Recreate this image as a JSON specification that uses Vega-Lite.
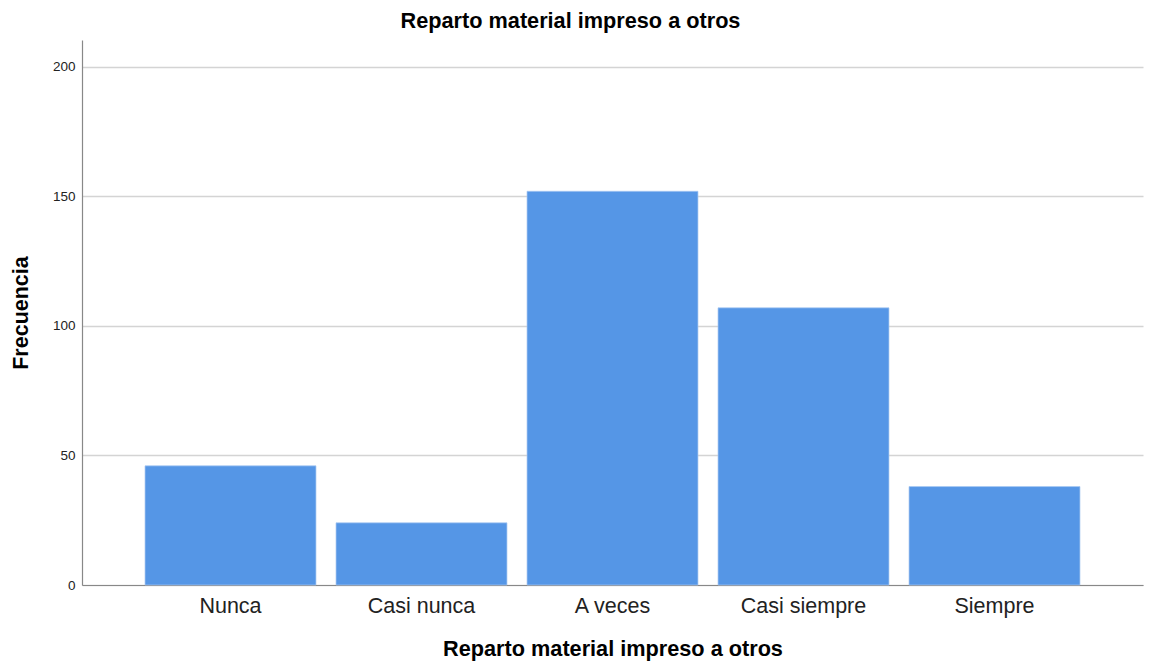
{
  "$schema": "https://vega.github.io/schema/vega-lite/v6.json",
  "autosize": "none",
  "width": 1061,
  "height": 545,
  "padding": {"left": 82, "top": 40, "right": 6, "bottom": 82},
  "background": "white",
  "title": {
    "text": "Reparto material impreso a otros",
    "font": "Liberation Sans",
    "fontSize": 21.7,
    "fontWeight": "bold",
    "color": "#000000",
    "anchor": "middle",
    "dx": -42,
    "offset": 7
  },
  "data": {
    "values": [
      {"categoria": "Nunca", "frecuencia": 46},
      {"categoria": "Casi nunca", "frecuencia": 24},
      {"categoria": "A veces", "frecuencia": 152},
      {"categoria": "Casi siempre", "frecuencia": 107},
      {"categoria": "Siempre", "frecuencia": 38}
    ]
  },
  "mark": {"type": "bar", "color": "#5596e6", "stroke": "#a9c9f2", "strokeWidth": 0.7},
  "encoding": {
    "x": {
      "field": "categoria",
      "type": "nominal",
      "sort": null,
      "scale": {"paddingInner": 0.105, "paddingOuter": 0.33},
      "axis": {
        "title": "Reparto material impreso a otros",
        "titleFont": "Liberation Sans",
        "titleFontSize": 21.7,
        "titleFontWeight": "bold",
        "titleColor": "#000000",
        "titlePadding": 22,
        "labelFont": "Liberation Sans",
        "labelFontSize": 21.5,
        "labelColor": "#222222",
        "labelAngle": 0,
        "labelPadding": 10,
        "ticks": false,
        "domainColor": "#888888",
        "domainWidth": 1.2,
        "grid": false
      }
    },
    "y": {
      "field": "frecuencia",
      "type": "quantitative",
      "scale": {"domain": [0, 210.4], "nice": false},
      "axis": {
        "title": "Frecuencia",
        "values": [0, 50, 100, 150, 200],
        "titleFont": "Liberation Sans",
        "titleFontSize": 21.5,
        "titleFontWeight": "bold",
        "titleColor": "#000000",
        "titlePadding": 20,
        "labelFont": "Liberation Sans",
        "labelFontSize": 13.5,
        "labelColor": "#222222",
        "labelPadding": 7,
        "ticks": false,
        "domainColor": "#888888",
        "domainWidth": 1.2,
        "grid": true,
        "gridColor": "#d4d4d4",
        "gridWidth": 1.3
      }
    }
  },
  "config": {"view": {"stroke": null}}
}
